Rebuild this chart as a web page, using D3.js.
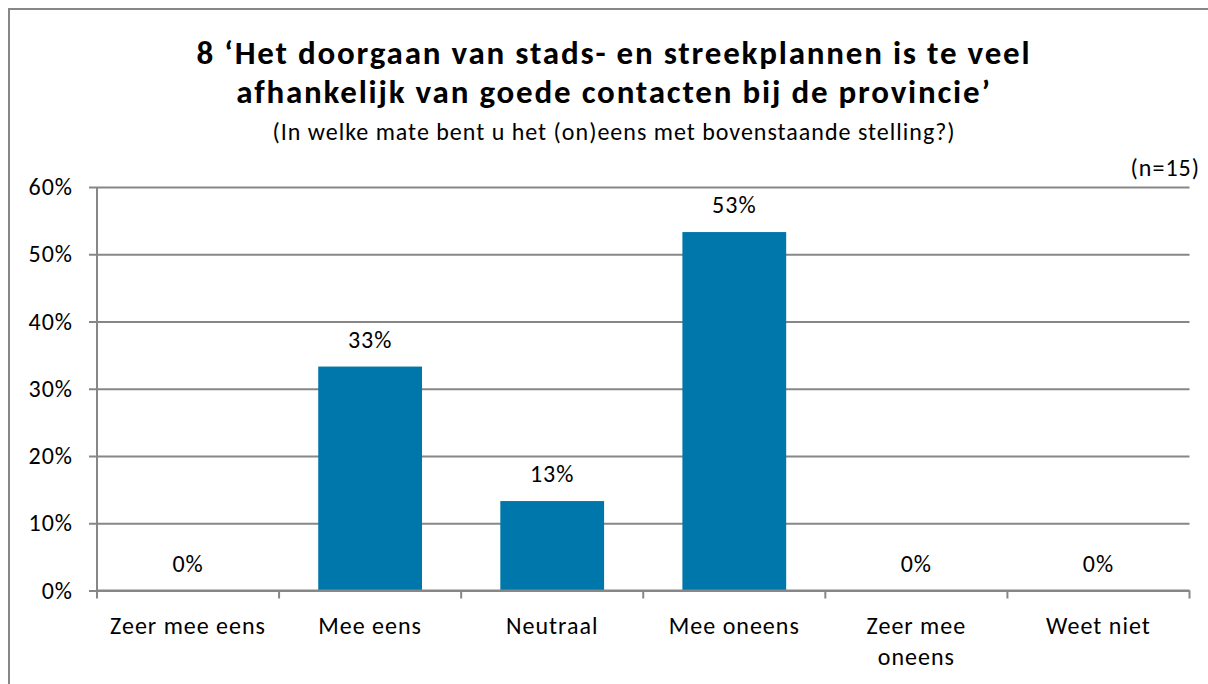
<!DOCTYPE html>
<html>
<head>
<meta charset="utf-8">
<script src="https://cdn.jsdelivr.net/npm/d3@7"></script>
<style>
	body { margin: 0; background: #fff; }
	svg { display: block; font-family: Carlito, Lato, sans-serif; }
</style>
</head>
<body>
<div id="chart"></div>
<script>
// data
var categories = ['Zeer mee eens', 'Mee eens', 'Neutraal', 'Mee oneens', 'Zeer mee oneens', 'Weet niet'];
var values = [0, 0.333, 0.133, 0.533, 0, 0];
var yTicks = [0, 0.1, 0.2, 0.3, 0.4, 0.5, 0.6];
var titleLines = ['8 \u2018Het doorgaan van stads- en streekplannen is te veel', 'afhankelijk van goede contacten bij de provincie\u2019'];
var subtitle = '(In welke mate bent u het (on)eens met bovenstaande stelling?)';
var note = '(n=15)';

(function () {
	var width = 1208;
	var height = 684;
	var margin = { top: 187, right: 18.5, bottom: 93.5, left: 97 };
	var gridColor = '#878787';
	var barColor = '#0077aa';
	var fontColor = '#000';
	var fontSize = 24;
	var spacing = 1;

	var svg = d3.select('#chart').append('svg')
		.attr('width', width)
		.attr('height', height);

	// outer frame
	svg.append('rect')
		.attr('x', 9).attr('y', 9)
		.attr('width', 1220).attr('height', 700)
		.attr('fill', 'none')
		.attr('stroke', gridColor)
		.attr('stroke-width', 2);

	var x = d3.scaleBand()
		.domain(categories)
		.range([margin.left, width - margin.right])
		.padding(0);
	var y = d3.scaleLinear()
		.domain([0, 0.6])
		.range([height - margin.bottom, margin.top]);
	var fmt = d3.format('.0%');

	// titles
	var title = svg.append('text')
		.attr('text-anchor', 'middle')
		.attr('font-weight', 'bold')
		.attr('font-size', 33)
		.attr('letter-spacing', 1.8)
		.attr('fill', fontColor);
	title.selectAll('tspan')
		.data(titleLines)
		.enter().append('tspan')
		.attr('x', 614)
		.attr('y', (d, i) => 64 + i * 38.5)
		.text(d => d);
	svg.append('text')
		.attr('x', 614).attr('y', 140)
		.attr('text-anchor', 'middle')
		.attr('font-size', fontSize)
		.attr('letter-spacing', spacing)
		.attr('fill', fontColor)
		.text(subtitle);
	svg.append('text')
		.attr('x', 1200).attr('y', 176)
		.attr('text-anchor', 'end')
		.attr('font-size', fontSize)
		.attr('letter-spacing', spacing)
		.attr('fill', fontColor)
		.text(note);

	// y axis with gridlines
	var yAxis = svg.append('g')
		.attr('transform', 'translate(' + margin.left + ',0)')
		.call(d3.axisLeft(y).tickValues(yTicks).tickFormat(fmt)
			.tickSize(-(width - margin.left - margin.right)).tickPadding(24))
		.attr('font-family', null)
		.attr('font-size', null);
	yAxis.select('.domain').remove();
	yAxis.selectAll('.tick line')
		.attr('x1', -8)
		.attr('stroke', gridColor)
		.attr('stroke-width', 2);
	yAxis.selectAll('.tick text')
		.attr('font-size', fontSize)
		.attr('letter-spacing', spacing)
		.attr('fill', fontColor);
	svg.append('line')
		.attr('x1', margin.left).attr('x2', margin.left)
		.attr('y1', y(0.6)).attr('y2', y(0))
		.attr('stroke', gridColor)
		.attr('stroke-width', 2);

	// bars
	var barWidth = x.bandwidth() * 0.57;
	svg.append('g').selectAll('rect')
		.data(values)
		.enter().append('rect')
		.attr('x', (d, i) => x(categories[i]) + (x.bandwidth() - barWidth) / 2)
		.attr('y', d => y(d))
		.attr('width', barWidth)
		.attr('height', d => y(0) - y(d))
		.attr('fill', barColor);

	// x axis
	var xAxis = svg.append('g')
		.attr('transform', 'translate(0,' + y(0) + ')');
	xAxis.append('line')
		.attr('x1', margin.left).attr('x2', width - margin.right)
		.attr('stroke', gridColor)
		.attr('stroke-width', 2);
	var edges = categories.map(c => x(c)).concat([width - margin.right]);
	xAxis.selectAll('.edge')
		.data(edges)
		.enter().append('line')
		.classed('edge', true)
		.attr('x1', d => d).attr('x2', d => d)
		.attr('y1', 0).attr('y2', 8)
		.attr('stroke', gridColor)
		.attr('stroke-width', 2);

	var labels = xAxis.selectAll('.label')
		.data(categories)
		.enter().append('text')
		.classed('label', true)
		.attr('text-anchor', 'middle')
		.attr('font-size', fontSize)
		.attr('letter-spacing', spacing)
		.attr('fill', fontColor);
	labels.each(function (d) {
		var el = d3.select(this);
		var cx = x(d) + x.bandwidth() / 2;
		var words = d.split(' ');
		var lines = [words[0]];
		words.slice(1).forEach(w => {
			var test = lines[lines.length - 1] + ' ' + w;
			el.text(test);
			if (this.getComputedTextLength() > 170) lines.push(w);
			else lines[lines.length - 1] = test;
		});
		el.text(null);
		lines.forEach((line, i) => {
			el.append('tspan')
				.attr('x', cx)
				.attr('y', 43 + i * 31)
				.text(line);
		});
	});

	// data labels
	svg.append('g').selectAll('text')
		.data(values)
		.enter().append('text')
		.attr('x', (d, i) => x(categories[i]) + x.bandwidth() / 2)
		.attr('y', d => y(d) - 19)
		.attr('text-anchor', 'middle')
		.attr('font-size', fontSize)
		.attr('letter-spacing', spacing)
		.attr('fill', fontColor)
		.text(d => fmt(d));
})();
</script>
</body>
</html>
